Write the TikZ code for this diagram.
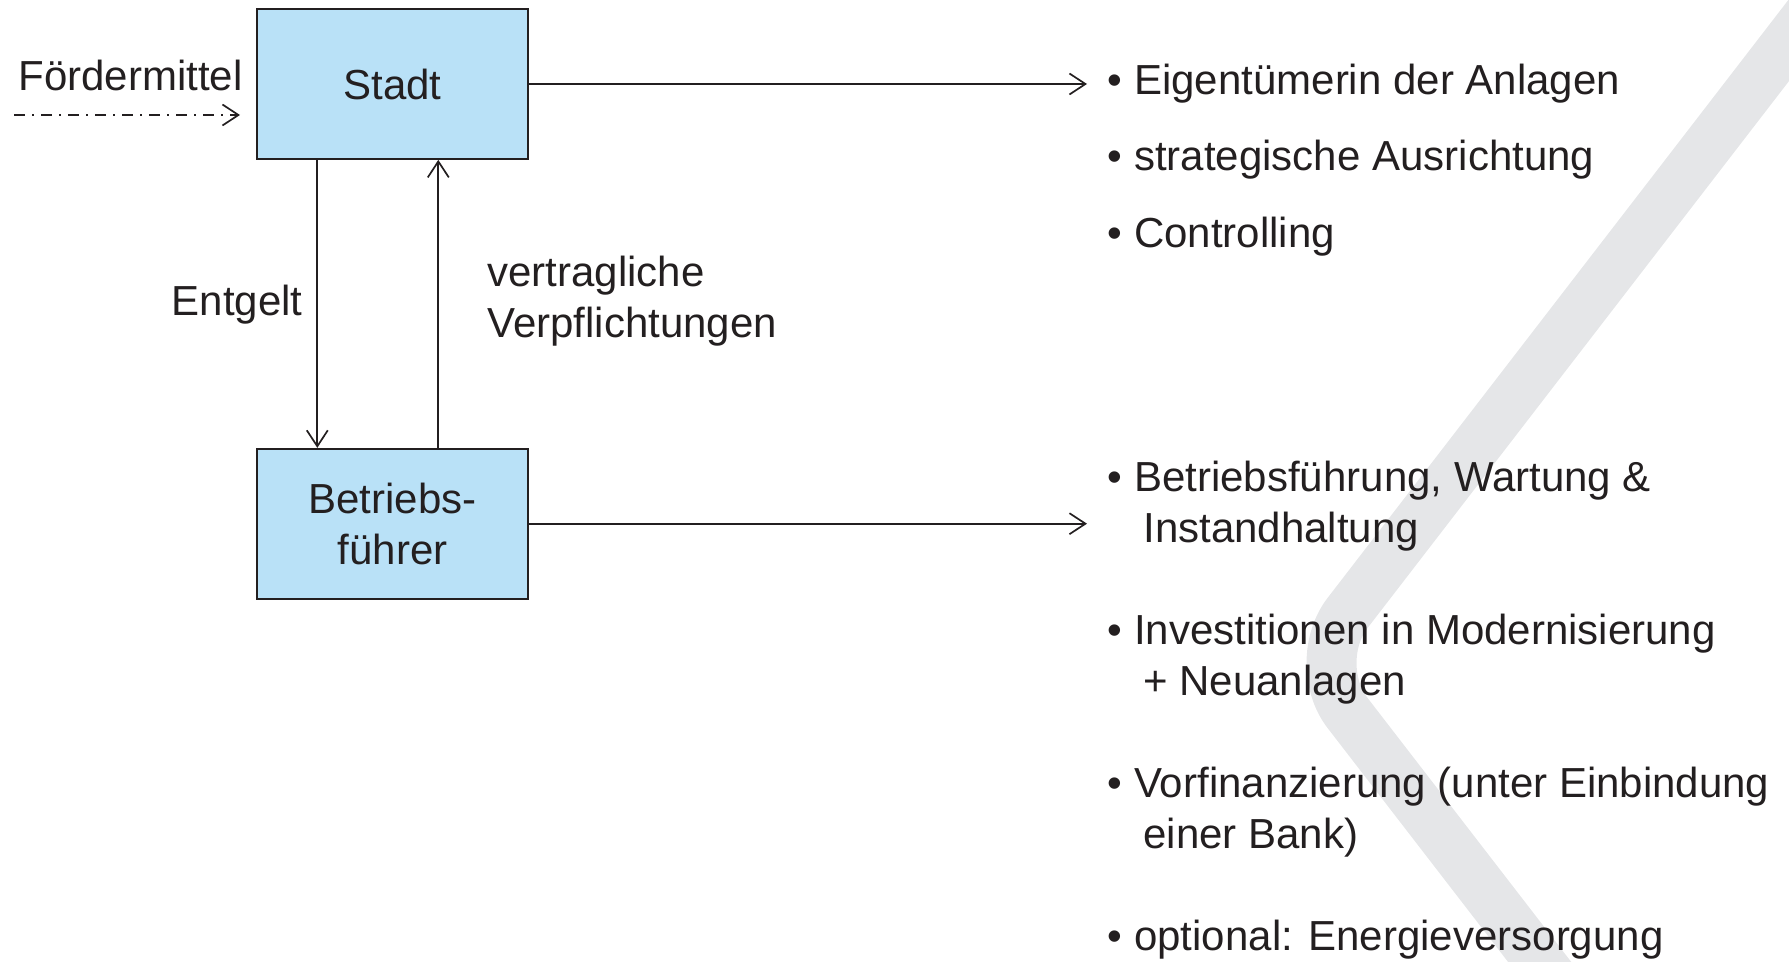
\documentclass[tikz,border=0pt]{standalone}
\usepackage{fontspec}
\setmainfont{Liberation Sans}
\usetikzlibrary{positioning,arrows.meta}
\definecolor{ink}{RGB}{35,31,32}
\definecolor{boxblue}{RGB}{185,225,247}
\definecolor{bandgray}{RGB}{229,230,232}
\newcommand{\contline}{\hspace*{17.75pt}}% indent of a continued item line

\begin{document}
\begin{tikzpicture}[
x=0.5pt, y=-0.5pt,
node distance=144pt,
font=\fontsize{21}{25.5}\selectfont,
 party/.style = {rectangle, draw=ink, fill=boxblue, line width=0.85pt,% boxes of the two partners
                 minimum width=135.5pt, minimum height=75pt,
                 inner sep=0pt, align=center, text=ink},
   lbl/.style = {inner sep=0pt, text=ink},
  item/.style = {inner sep=0pt, text=ink, align=left, anchor=north west},
  flow/.style = {draw=ink, line width=0.85pt,
                 -{Straight Barb[length=8pt,width=10.5pt]}},
  fund/.style = {flow, dash pattern=on 5.5pt off 3.5pt on 1pt off 3.5pt},
                    ]
\useasboundingbox (0,0) rectangle (1789,962);
% grey chevron behind everything
\begin{scope}
\clip (0,0) rectangle (1789,962);
\draw[bandgray, line width=25pt, rounded corners=31.5pt]
     (1843,-30) -- (1309,663) -- (1569,1000);
\end{scope}
% the two partners
\node[party] (stadt) at (392.5,84) {Stadt};
\node[party, below=of stadt] (bf) {Betriebs-\\führer};
% funding coming in
\node[lbl, anchor=base west] (fm) at (18,91) {Fördermittel};
\coordinate (fm-in) at (14,115);
\coordinate (fm-out) at (240,115);
\draw[fund] (fm-in) -- (fm-out);
% payment and duties
\draw[flow] ([xshift=-37.6pt]stadt.south) -- ([xshift=-37.6pt]bf.north);
\draw[flow] ([xshift=22.9pt]bf.north) -- ([xshift=22.9pt]stadt.south);
\node[lbl, anchor=base east] (entgelt) at (303,316) {Entgelt};
\node[item] (pflicht) at (487,250.3) {\strut vertragliche\\Verpflichtungen};
% roles
\coordinate (tip) at (1087,0);
\draw[flow] (stadt.east) -- (stadt.east -| tip);
\draw[flow] (bf.east) -- (bf.east -| tip);
\foreach \txt [count=\i] in {Eigentümerin der Anlagen,
                             strategische Ausrichtung,
                             Controlling}% <-- tasks of the town
    \node[item] (role-\i) at (1107.5,{94-35.7+76.5*(\i-1)}) {\strut{}• \txt};
\foreach \txt [count=\i] in {{Betriebsführung, Wartung \&\\\contline Instandhaltung},
                             {Investitionen in Modernisierung\\\contline + Neuanlagen},
                             {Vorfinanzierung (unter Einbindung\\\contline einer Bank)},
                             {optional: Energieversorgung}}% <-- tasks of the operator
    \node[item] (task-\i) at (1107.5,{491-35.7+153*(\i-1)}) {\strut{}• \txt};
\end{tikzpicture}
\end{document}
